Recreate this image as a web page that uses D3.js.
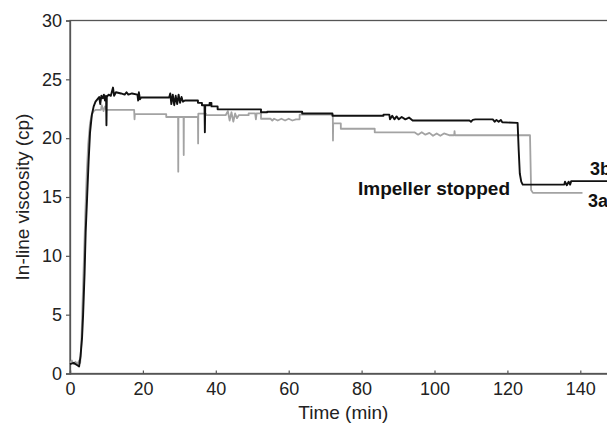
<!DOCTYPE html>
<html lang="en">
<head>
<meta charset="UTF-8">
<title>In-line viscosity</title>
<script src="https://cdn.jsdelivr.net/npm/d3@7"></script>
<style>
  body { margin: 0; background: #fff; }
  svg { display: block; font-family: Arial, "Liberation Sans", sans-serif; }
</style>
</head>
<body>
<svg width="607" height="425"></svg>
<script>
// time (min), viscosity (cp)
const run3b = [
  [0, 0.8], [1, 0.9], [2, 0.7], [2.5, 0.6], [2.9, 1.5], [3.3, 3], [3.6, 5], [4.0, 8.5],
  [4.3, 12], [4.7, 15], [5.1, 18], [5.5, 20.5], [6.0, 22], [6.5, 22.7], [7, 23.1],
  [7.5, 23.3], [8, 23.5], [8.3, 22.9], [8.6, 23.6], [9, 23.4], [9.3, 23.7], [9.6, 23.2],
  [9.9, 23.6], [10.0, 21.1], [10.1, 23.5], [10.6, 23.7], [11.2, 23.6], [11.8, 24.3],
  [12.1, 23.6], [12.6, 23.9], [14, 23.8], [15, 23.7], [15.5, 23.9], [16, 23.7], [17, 23.8],
  [18.5, 23.7], [18.7, 23.2], [18.9, 23.9], [19.2, 23.3], [19.5, 23.45], [27.2, 23.45],
  [27.5, 23.8], [27.8, 22.9], [28.2, 23.7], [28.6, 22.8], [29, 23.6], [29.4, 22.9],
  [29.8, 23.7], [30.2, 23.0], [30.6, 23.5], [31.0, 23.1], [31.5, 23.2], [35.1, 23.2],
  [35.1, 23.0], [36.2, 23.0], [36.2, 22.8], [36.9, 22.8], [37.0, 20.5], [37.1, 22.8],
  [38.3, 22.8], [38.3, 23.0], [38.8, 23.0], [38.8, 22.7], [40.5, 22.7], [40.5, 22.45],
  [52.4, 22.45], [52.4, 22.2], [54.1, 22.2], [54.1, 22.25], [63.7, 22.25], [63.7, 22.1],
  [72, 22.1], [72, 21.9], [86, 21.9], [86, 22.0], [87.6, 22.0], [87.8, 21.6], [88.4, 21.9],
  [89, 21.6], [89.6, 21.85], [90.2, 21.6], [91, 21.8], [92, 21.6], [93, 21.75], [94, 21.5],
  [109.6, 21.5], [110, 21.4], [110.5, 21.55], [111.2, 21.6], [116, 21.6], [116.5, 21.4],
  [117, 21.55], [117.6, 21.4], [118.2, 21.55], [118.6, 21.35], [122.8, 21.3], [123.1, 19],
  [123.4, 17.0], [123.8, 16.3], [124.2, 16.05], [135.6, 16.05], [135.8, 16.3], [136.3, 16.0],
  [136.8, 16.3], [137.2, 16.05], [137.5, 16.35], [150, 16.35]
];

const run3a = [
  [0, 0.9], [0.5, 1.1], [1, 0.8], [1.5, 1.0], [2, 0.8], [2.5, 1.1], [2.8, 0.9], [3.1, 2.5],
  [3.4, 5.5], [3.8, 9.5], [4.2, 13.5], [4.6, 17], [5.0, 19.5], [5.5, 21.3], [6.0, 22.0],
  [6.5, 22.3], [7, 22.4], [8.5, 22.4], [8.7, 22.8], [9.2, 22.3], [9.6, 22.7], [10, 22.4],
  [17.6, 22.4], [17.7, 21.6], [17.8, 22.05], [26.4, 22.05], [26.4, 21.8], [29.65, 21.8],
  [29.7, 17.15], [29.75, 21.8], [31.15, 21.8], [31.2, 18.56], [31.25, 21.8], [35.1, 21.8],
  [35.15, 19.55], [35.2, 22.08], [37.3, 22.08], [37.3, 21.95], [42.7, 21.95], [43.3, 22.3],
  [43.8, 21.5], [44.3, 22.2], [44.8, 21.4], [45.3, 22.1], [45.8, 21.7], [46.3, 21.95],
  [49, 21.95], [49, 22.1], [50.8, 22.1], [51, 21.6], [51.2, 22.1], [52.4, 22.1], [52.4, 21.65],
  [55, 21.65], [55.5, 21.5], [56, 21.65], [57, 21.5], [58, 21.65], [59, 21.5], [60, 21.65],
  [61, 21.5], [62, 21.6], [63, 21.6], [63, 22.0], [72.1, 22.0], [72.15, 19.8], [72.2, 21.25],
  [74.3, 21.25], [74.3, 20.8], [83.6, 20.8], [83.6, 20.5], [94.5, 20.5], [95.5, 20.3],
  [96.5, 20.5], [97.5, 20.3], [98.6, 20.45], [99.6, 20.2], [100.6, 20.4], [101.6, 20.2],
  [102.6, 20.4], [104, 20.25], [105.4, 20.25], [105.5, 20.6], [105.6, 20.25], [126.2, 20.25],
  [126.5, 15.6], [127, 15.35], [140.6, 15.35]
];

const xTicks = [0, 20, 40, 60, 80, 100, 120, 140];
const yTicks = [0, 5, 10, 15, 20, 25, 30];

const svg = d3.select("svg");
const plotLeft = 70, plotTop = 20.5, plotBottom = 373.5;

const x = d3.scaleLinear().domain([0, 150]).range([plotLeft, plotLeft + 150 * 3.645]);
const y = d3.scaleLinear().domain([0, 30]).range([plotBottom, plotTop]);

// frame
svg.append("rect")
  .attr("x", x(0)).attr("y", y(30))
  .attr("width", x(150) - x(0)).attr("height", y(0) - y(30))
  .attr("fill", "none").attr("stroke", "#555").attr("stroke-width", 1.3);

const xAxis = svg.append("g")
  .attr("transform", `translate(0,${plotBottom})`)
  .call(d3.axisBottom(x).tickValues(xTicks).tickSize(-3).tickPadding(9));
const yAxis = svg.append("g")
  .attr("transform", `translate(${plotLeft},0)`)
  .call(d3.axisLeft(y).tickValues(yTicks).tickSize(4).tickPadding(4));

[xAxis, yAxis].forEach(g => {
  g.select(".domain").attr("stroke", "#555").attr("stroke-width", 1.3);
  g.selectAll(".tick line").attr("stroke", "#555").attr("stroke-width", 1.2);
  g.selectAll(".tick text").attr("font-size", 18).attr("fill", "#222")
    .attr("font-family", "Arial, 'Liberation Sans', sans-serif");
});

const line = d3.line().x(d => x(d[0])).y(d => y(d[1]));

svg.append("path").datum(run3a)
  .attr("d", line).attr("fill", "none")
  .attr("stroke", "#a3a3a3").attr("stroke-width", 1.8).attr("stroke-linejoin", "round");

svg.append("path").datum(run3b)
  .attr("d", line).attr("fill", "none")
  .attr("stroke", "#111").attr("stroke-width", 1.9).attr("stroke-linejoin", "round");

// labels
svg.append("text").attr("x", x(75)).attr("y", 419)
  .attr("text-anchor", "middle").attr("font-size", 19).attr("fill", "#222")
  .text("Time (min)");

svg.append("text")
  .attr("transform", `translate(29,${(plotTop + plotBottom) / 2}) rotate(-90)`)
  .attr("text-anchor", "middle").attr("font-size", 19).attr("fill", "#222")
  .text("In-line viscosity (cp)");

svg.append("text").attr("x", 358).attr("y", 195)
  .attr("font-size", 19).attr("font-weight", "bold").attr("fill", "#111")
  .text("Impeller stopped");

svg.append("text").attr("x", 590).attr("y", 175)
  .attr("font-size", 18).attr("font-weight", "bold").attr("fill", "#111")
  .text("3b");

svg.append("text").attr("x", 588).attr("y", 207)
  .attr("font-size", 18).attr("font-weight", "bold").attr("fill", "#111")
  .text("3a");
</script>
</body>
</html>
